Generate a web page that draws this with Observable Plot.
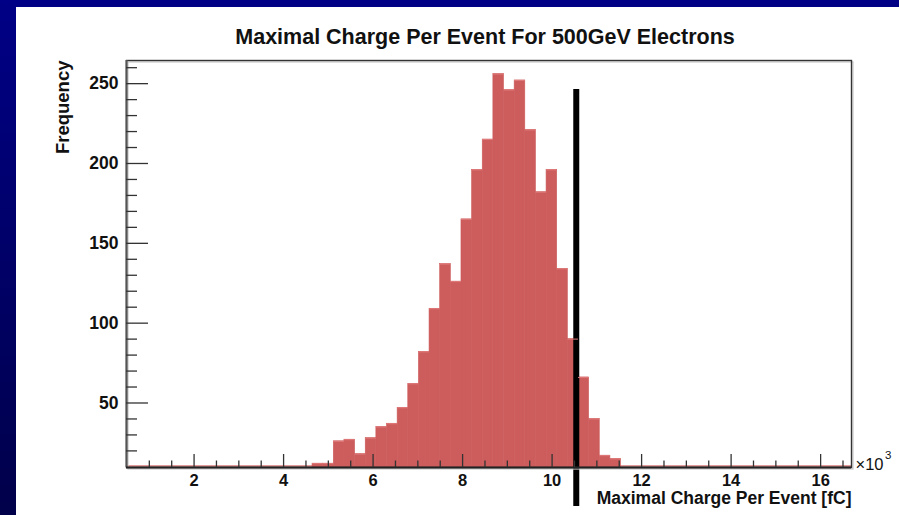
<!DOCTYPE html>
<html><head><meta charset="utf-8">
<script src="https://cdn.jsdelivr.net/npm/d3@7"></script>
<script src="https://cdn.jsdelivr.net/npm/@observablehq/plot@0.6"></script>
<style>
html,body{margin:0;padding:0;}
body{width:899px;height:515px;position:relative;overflow:hidden;background:linear-gradient(#000086,#00004a);}
#panel{position:absolute;left:16px;top:7px;width:883px;height:508px;background:#fff;}
#chart{position:absolute;left:0;top:0;}
</style></head><body>
<div id="panel"></div>
<div id="chart"></div>
<script>
// ---- data ----
const title = "Maximal Charge Per Event For 500GeV Electrons";
const xTitle = "Maximal Charge Per Event [fC]";
const yTitle = "Frequency";
const xExponentBase = "×10";
const xExponentPower = "3";
const binStart = 4.647;      // lower edge of first non-empty bin (×10³ fC)
const binWidth = 0.2377;     // bin width (×10³ fC)
const counts = [12, 12, 26, 27, 18, 28, 35, 37, 47, 62, 82, 109, 137, 126, 165, 196, 215, 256, 246, 252, 221, 182, 196, 134, 90, 66, 40, 17, 15];
const xDomain = [0.49, 16.69];
const yDomain = [9.6, 264.5];
const xMajor = [2, 4, 6, 8, 10, 12, 14, 16];
const xMinor = [1, 1.5, 2.5, 3, 3.5, 4.5, 5, 5.5, 6.5, 7, 7.5, 8.5, 9, 9.5, 10.5, 11, 11.5, 12.5, 13, 13.5, 14.5, 15, 15.5, 16.5];
const yMajor = [50, 100, 150, 200, 250];
const yMinor = [20, 30, 40, 60, 70, 80, 90, 110, 120, 130, 140, 160, 170, 180, 190, 210, 220, 230, 240, 260];
const cutX = [10.54];
const cutTop = 246.3;
const cutBottom = -14.8;

const bins = counts.map((c, i) => ({x1: binStart + i * binWidth, x2: binStart + (i + 1) * binWidth, count: c}));

const red = "#cd5c5c";
const ink = "#111";
const font = "'Liberation Sans', Arial, Helvetica, sans-serif";
const W = 899, H = 515, mL = 126, mR = 48, mT = 60, mB = 48;
const fw = W - mL - mR, fh = H - mT - mB;

const chart = Plot.plot({
  width: W, height: H,
  marginLeft: mL, marginRight: mR, marginTop: mT, marginBottom: mB,
  style: {background: "transparent", fontFamily: font, overflow: "visible", color: ink},
  x: {domain: xDomain, axis: null},
  y: {domain: yDomain, axis: null},
  marks: [
    Plot.ruleY([yDomain[0]], {x1: xDomain[0], x2: xDomain[1], stroke: "#e39a9a", strokeWidth: 2, dy: -1.5}),
    Plot.rectY(bins, {x1: "x1", x2: "x2", y: "count", fill: red, stroke: red, strokeWidth: 0.6, clip: true}),
    Plot.ruleX(cutX, {y1: cutTop, y2: cutBottom, stroke: "black", strokeWidth: 6}),
    Plot.ruleY(bins, {x1: "x1", x2: "x2", y: "count", stroke: "#e07a7a", strokeWidth: 1}),
    Plot.frame({stroke: "#c8c8c8", strokeWidth: 1.2, dx: 1.5, dy: 1.5}),
    Plot.frame({stroke: "#333", strokeWidth: 1.4}),
    Plot.ruleX([xDomain[0]], {stroke: "#555", strokeWidth: 2}),
    Plot.ruleY([yDomain[0]], {stroke: "#222", strokeWidth: 2}),
    Plot.tickY(yMajor, {y: d => d, insetRight: fw - 22, stroke: "#333", strokeWidth: 1.3}),
    Plot.tickY(yMinor, {y: d => d, insetRight: fw - 11, stroke: "#333", strokeWidth: 1.3}),
    Plot.text(yMajor, {y: d => d, text: d => String(d), frameAnchor: "left", dx: -8, textAnchor: "end", lineAnchor: "middle", fontSize: 17.5, fontWeight: "bold", fill: ink}),
    Plot.tickX(xMajor, {x: d => d, insetTop: fh - 13, stroke: "#333", strokeWidth: 1.3}),
    Plot.tickX(xMinor, {x: d => d, insetTop: fh - 6.5, stroke: "#333", strokeWidth: 1.3}),
    Plot.text(xMajor, {x: d => d, text: d => String(d), frameAnchor: "bottom", dy: 13, lineAnchor: "middle", fontSize: 16.5, fontWeight: "bold", fill: ink}),
    Plot.text([title], {frameAnchor: "top", dx: -4, dy: -23, fontSize: 21.5, fontWeight: "bold", fill: ink, lineAnchor: "middle"}),
    Plot.text([yTitle], {frameAnchor: "top-left", dx: -63, dy: 0, rotate: -90, textAnchor: "end", lineAnchor: "middle", fontSize: 18.5, fontWeight: "bold", fill: ink}),
    Plot.text([xTitle], {frameAnchor: "bottom-right", dx: 0, dy: 31, textAnchor: "end", lineAnchor: "middle", fontSize: 17.5, fontWeight: "bold", fill: ink}),
    Plot.text([xExponentBase], {frameAnchor: "bottom-right", dx: 4, dy: -3, textAnchor: "start", lineAnchor: "middle", fontSize: 16.5, fill: ink}),
    Plot.text([xExponentPower], {frameAnchor: "bottom-right", dx: 33.5, dy: -12, textAnchor: "start", lineAnchor: "middle", fontSize: 11.5, fill: ink})
  ]
});
document.getElementById("chart").appendChild(chart);
</script>
</body></html>
